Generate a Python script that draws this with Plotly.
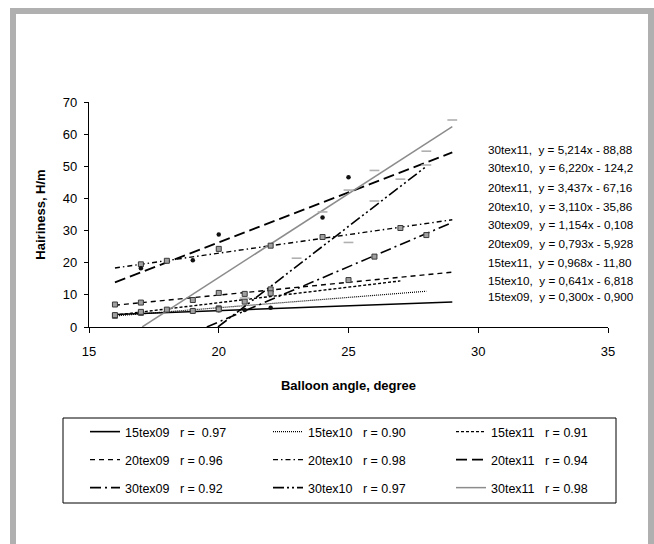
import plotly.graph_objects as go

# ---------------- data ----------------
series_names = ["15tex09", "15tex10", "15tex11",
                "20tex09", "20tex10", "20tex11",
                "30tex09", "30tex10", "30tex11"]
r_values = ["\u00a00.97", "0.90", "0.91", "0.96", "0.98", "0.94", "0.92", "0.97", "0.98"]

x_15tex09 = [16, 17, 19, 20, 21, 22]
y_15tex09 = [3.9, 4.6, 4.8, 5.2, 5.3, 6.0]
x_15tex10 = [16, 17, 18, 20, 21]
y_15tex10 = [3.5, 4.4, 5.4, 5.8, 7.9]
x_15tex11 = [16, 17, 19, 20, 21]
y_15tex11 = [3.7, 4.7, 5.0, 5.5, 10.3]
x_20tex09 = [16, 17, 19, 20, 22, 25]
y_20tex09 = [7.0, 7.6, 8.4, 10.6, 11.7, 14.6]
x_20tex10 = [17, 18, 20, 22, 24, 27]
y_20tex10 = [19.5, 20.6, 24.3, 25.3, 28.0, 30.8]
x_20tex11 = [17, 19, 20, 24, 25]
y_20tex11 = [18.3, 20.8, 28.8, 34.1, 46.6]
x_30tex09 = [22, 26, 28]
y_30tex09 = [10.5, 21.9, 28.6]
x_30tex10 = [21, 23, 25, 26, 27, 28]
y_30tex10 = [9.0, 21.4, 26.3, 39.2, 46.0, 50.4]
x_30tex11 = [24, 25, 26, 28, 29]
y_30tex11 = [35.8, 42.6, 48.7, 54.7, 64.4]

points_x = [x_15tex09, x_15tex10, x_15tex11, x_20tex09, x_20tex10,
            x_20tex11, x_30tex09, x_30tex10, x_30tex11]
points_y = [y_15tex09, y_15tex10, y_15tex11, y_20tex09, y_20tex10,
            y_20tex11, y_30tex09, y_30tex10, y_30tex11]

# trend lines (slope, intercept, x-range) as drawn for each line style
trend_slope = [0.300, 0.641, 0.968, 0.793, 1.154, 3.110, 3.437, 6.220, 5.214]
trend_intercept = [-0.900, -6.818, -11.80, -5.928, -0.108, -35.86, -67.16, -124.2, -88.88]
trend_x_start = [16, 16, 16, 16, 16, 16, 19.54, 19.97, 17.05]
trend_x_end = [29, 28, 27, 29, 29, 29, 29, 28, 29]

# equation labels as printed on the chart
equation_labels = [
    "30tex11,  y = 5,214x - 88,88",
    "30tex10,  y = 6,220x - 124,2",
    "20tex11,  y = 3,437x - 67,16",
    "20tex10,  y = 3,110x - 35,86",
    "30tex09,  y = 1,154x - 0,108",
    "20tex09,  y = 0,793x - 5,928",
    "15tex11,  y = 0,968x - 11,80",
    "15tex10,  y = 0,641x - 6,818",
    "15tex09,  y = 0,300x - 0,900",
]

x_ticks = [15, 20, 25, 30, 35]
y_ticks = [0, 10, 20, 30, 40, 50, 60, 70]

# ---------------- styles ----------------
FONT = "Arial, 'Liberation Sans', sans-serif"
line_color = ["black", "black", "black", "black", "black", "black", "black", "black", "#8c8c8c"]
line_width = [1.6, 1.2, 1.4, 1.4, 1.4, 1.8, 1.6, 1.6, 1.5]
line_dash = ["solid", "1px,1px", "3px,2px", "5px,4px", "5px,3px,1.5px,3px",
             "11px,5px", "11px,4px,2px,4px", "11px,3px,2px,3px,2px,3px", "solid"]
marker_symbol = ["circle", "square", "square", "square", "square",
                 "circle", "square", "line-ew", "line-ew"]
legend_ids = ["legend", "legend", "legend", "legend2", "legend2", "legend2",
              "legend3", "legend3", "legend3"]

fig = go.Figure()

# trend lines (legend entries)
for i, name in enumerate(series_names):
    xs = [trend_x_start[i], trend_x_end[i]]
    ys = [trend_slope[i] * v + trend_intercept[i] for v in xs]
    fig.add_trace(go.Scatter(
        x=xs, y=ys, mode="lines",
        line=dict(color=line_color[i], width=line_width[i], dash=line_dash[i]),
        name=f"{name}\u00a0\u00a0\u00a0r = {r_values[i]}",
        legend=legend_ids[i], showlegend=True, hoverinfo="skip"))

# data points
for i, name in enumerate(series_names):
    sym = marker_symbol[i]
    if sym == "square":
        mk = dict(symbol="square", size=5, color="#a0a0a0",
                  line=dict(color="#3a3a3a", width=1))
    elif sym == "circle":
        mk = dict(symbol="circle", size=4.5, color="#111111",
                  line=dict(color="#111111", width=0))
    else:
        mk = dict(symbol="line-ew", size=7, color="#b0b0b0",
                  line=dict(color="#b0b0b0", width=1.6))
    fig.add_trace(go.Scatter(x=points_x[i], y=points_y[i], mode="markers",
                             marker=mk, showlegend=False, name=name))

# layout geometry
W, H = 654, 544
L, R, T, B = 89, 46, 102, 217
pw, ph = W - L - R, H - T - B


def px_x(p):
    return (p - L) / pw


def px_y(p):
    return (H - B - p) / ph


for k, lab in enumerate(equation_labels):
    row_y = [149, 167, 187, 206, 224, 243, 262, 280, 296][k]
    fig.add_annotation(x=px_x(486), y=px_y(row_y), xref="paper", yref="paper",
                       text=lab.replace("  ", "\u00a0\u00a0"), showarrow=False,
                       xanchor="left", yanchor="middle",
                       font=dict(family=FONT, size=11.7, color="black"))

legend_common = dict(orientation="h", entrywidth=138, entrywidthmode="pixels",
                     x=px_x(85), xanchor="left", yanchor="middle",
                     bgcolor="rgba(0,0,0,0)", borderwidth=0,
                     font=dict(family=FONT, size=12.5, color="black"))

fig.update_layout(
    width=W, height=H,
    margin=dict(l=L, r=R, t=T, b=B, autoexpand=False),
    paper_bgcolor="white", plot_bgcolor="white",
    font=dict(family=FONT, size=13, color="black"),
    legend=dict(y=px_y(432), **legend_common),
    legend2=dict(y=px_y(460), **legend_common),
    legend3=dict(y=px_y(488), **legend_common),
    xaxis=dict(range=[15, 35], tickvals=x_ticks, showline=True, linecolor="black",
               linewidth=1.2, ticks="outside", ticklen=5, tickcolor="black",
               showgrid=False, zeroline=False, ticklabelstandoff=7,
               tickfont=dict(family=FONT, size=13),
               title=dict(text="<b>Balloon angle, degree</b>", standoff=23,
                          font=dict(family=FONT, size=13))),
    yaxis=dict(range=[0, 70], tickvals=y_ticks, showline=True, linecolor="black",
               linewidth=1.2, ticks="outside", ticklen=4, tickcolor="black",
               showgrid=False, zeroline=False, ticklabelstandoff=4,
               tickfont=dict(family=FONT, size=13),
               title=dict(text="<b>Hairiness, H/m</b>", standoff=14,
                          font=dict(family=FONT, size=13))),
)

# legend box and outer frame
fig.add_shape(type="rect", xref="paper", yref="paper",
              x0=px_x(63), x1=px_x(616), y0=px_y(503), y1=px_y(418),
              line=dict(color="black", width=1), fillcolor="rgba(0,0,0,0)")
fig.add_shape(type="rect", xref="paper", yref="paper",
              x0=px_x(13), x1=px_x(651), y0=px_y(560), y1=px_y(11),
              line=dict(color="#b0b0b0", width=6), fillcolor="rgba(0,0,0,0)")

fig.write_html("out.html")
